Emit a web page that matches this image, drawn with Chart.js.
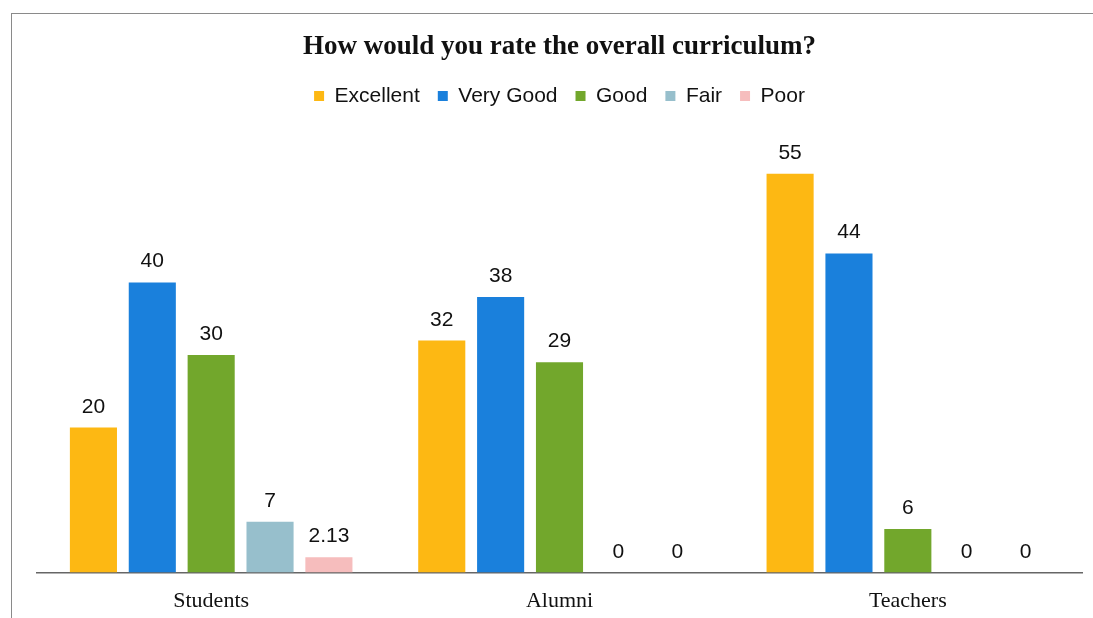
<!DOCTYPE html>
<html>
<head>
<meta charset="utf-8">
<script src="https://cdn.jsdelivr.net/npm/chart.js@4.4.0/dist/chart.umd.min.js"></script>
<style>
html,body{margin:0;padding:0;background:#fff;width:1093px;height:618px;overflow:hidden;}
#wrap{position:absolute;left:0;top:0;width:1093px;height:618px;overflow:hidden;}
#frame{position:absolute;left:11px;top:13px;width:1082px;height:605px;border-top:1px solid #8a8a8a;border-left:1px solid #8a8a8a;pointer-events:none;}
canvas{position:absolute;left:0;top:0;}
</style>
</head>
<body>
<div id="wrap"><canvas id="c" width="1093" height="629"></canvas></div>
<div id="frame"></div>
<script>
const categories = ["Students", "Alumni", "Teachers"];
const seriesNames = ["Excellent", "Very Good", "Good", "Fair", "Poor"];
const excellent = [20, 32, 55];
const veryGood = [40, 38, 44];
const good = [30, 29, 6];
const fair = [7, 0, 0];
const poor = [2.13, 0, 0];
const seriesColors = ["#FDB813", "#1A80DC", "#72A72C", "#97BFCC", "#F6BDBD"];

const valueSets = [excellent, veryGood, good, fair, poor];

const labelPlugin = {
  id: 'barLabels',
  afterDatasetsDraw(chart) {
    const ctx = chart.ctx;
    ctx.save();
    ctx.font = '21px "Liberation Sans", Arial, sans-serif';
    ctx.fillStyle = '#111';
    ctx.textAlign = 'center';
    ctx.textBaseline = 'alphabetic';
    chart.data.datasets.forEach((ds, di) => {
      const meta = chart.getDatasetMeta(di);
      meta.data.forEach((bar, i) => {
        const v = ds.data[i];
        ctx.fillText(String(v), bar.x, bar.y - 15);
      });
    });
    ctx.restore();
  }
};

new Chart(document.getElementById('c'), {
  type: 'bar',
  data: {
    labels: categories,
    datasets: seriesNames.map((n, i) => ({
      label: n,
      data: valueSets[i],
      backgroundColor: seriesColors[i],
      borderWidth: 0,
      barPercentage: 0.8,
      categoryPercentage: 0.845
    }))
  },
  options: {
    responsive: false,
    animation: false,
    devicePixelRatio: 1,
    layout: { padding: { left: 37, right: 11, top: 31, bottom: 0 } },
    plugins: {
      title: {
        display: true,
        text: 'How would you rate the overall curriculum?',
        color: '#111',
        font: { family: '"Liberation Serif", "Times New Roman", serif', size: 27, weight: 'bold' },
        padding: { top: 0, bottom: 4 }
      },
      legend: {
        position: 'top',
        labels: {
          color: '#111',
          font: { family: '"Liberation Sans", Arial, sans-serif', size: 21 },
          boxWidth: 10,
          boxHeight: 10,
          padding: 18
        }
      },
      tooltip: { enabled: false }
    },
    scales: {
      x: {
        grid: { display: false, drawTicks: false },
        border: { display: true, color: '#666', width: 1.5 },
        ticks: {
          color: '#111',
          padding: 15,
          font: { family: '"Liberation Serif", "Times New Roman", serif', size: 22 }
        }
      },
      y: {
        display: false,
        min: 0,
        max: 62.9
      }
    }
  },
  plugins: [labelPlugin]
});
</script>
</body>
</html>
